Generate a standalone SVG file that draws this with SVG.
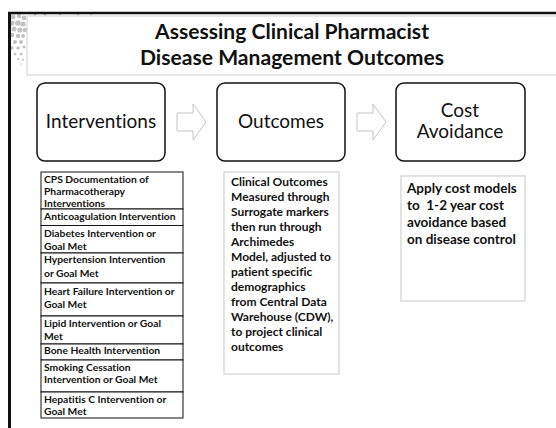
<svg xmlns="http://www.w3.org/2000/svg" width="556" height="428" viewBox="0 0 556 428">
  <style>
    text { font-variant-ligatures: none; }
    .title { font-family: Lato, "Liberation Sans", sans-serif; font-weight: bold; font-size: 20px; fill: #111; text-anchor: middle; }
    .stage { fill: #fff; stroke: #111; stroke-width: 1.5; }
    .stage-label { font-family: Lato, "Liberation Sans", sans-serif; font-size: 19px; fill: #111; text-anchor: middle; }
    .flow { fill: #fff; stroke: #c4c4c4; stroke-width: 1; }
    .note { fill: #fff; stroke: #d0d0d0; stroke-width: 1.2; }
    .cell { fill: #fff; stroke: #111; stroke-width: 1; }
    .cell-text { font-family: Lato, "Liberation Sans", sans-serif; font-weight: bold; font-size: 10.3px; fill: #111; }
    .note-text { font-family: Lato, "Liberation Sans", sans-serif; font-weight: bold; font-size: 12px; fill: #111; }
    .cost-text { font-family: Lato, "Liberation Sans", sans-serif; font-weight: bold; font-size: 13.5px; fill: #111; }
    .dot { fill: #c2c2c2; }
  </style>

  <rect width="556" height="428" fill="#fff"/>

  <!-- slide frame -->
  <g id="frame">
    <g id="halftone">
      <circle class="dot" cx="13" cy="17" r="2.4"/>
      <circle class="dot" cx="19" cy="16" r="2.2"/>
      <circle class="dot" cx="24" cy="18" r="2.4"/>
      <circle class="dot" cx="12" cy="23" r="2.6"/>
      <circle class="dot" cx="18" cy="23" r="2.8"/>
      <circle class="dot" cx="23" cy="24" r="2.6"/>
      <circle class="dot" cx="14" cy="29" r="2.5"/>
      <circle class="dot" cx="20" cy="30" r="2.6"/>
      <circle class="dot" cx="25" cy="30" r="2.2"/>
      <circle class="dot" cx="12" cy="35" r="2.3"/>
      <circle class="dot" cx="18" cy="36" r="2.3"/>
      <circle class="dot" cx="23" cy="36" r="2.0"/>
      <circle class="dot" cx="15" cy="42" r="2.0"/>
      <circle class="dot" cx="21" cy="42" r="2.0"/>
      <circle class="dot" cx="12" cy="48" r="1.7"/>
      <circle class="dot" cx="18" cy="48" r="1.8"/>
      <circle class="dot" cx="24" cy="47" r="1.5"/>
      <circle class="dot" cx="15" cy="54" r="1.4"/>
      <circle class="dot" cx="21" cy="54" r="1.5"/>
      <circle class="dot" cx="18" cy="59" r="1.1"/>
      <circle class="dot" cx="23" cy="60" r="1.0"/>
      <circle class="dot" cx="21" cy="64" r="0.8"/>
      <circle class="dot" cx="35" cy="14.5" r="1.2"/>
      <circle class="dot" cx="45" cy="14.5" r="1.2"/>
      <circle class="dot" cx="60" cy="14.5" r="1.0"/>
      <circle class="dot" cx="78" cy="14.5" r="1.0"/>
      <circle class="dot" cx="91" cy="14.5" r="0.8"/>
    </g>
    <rect x="27" y="16" width="540" height="59" fill="none" stroke="#cfcfcf" stroke-width="1"/>
    <line x1="8" y1="13" x2="556" y2="13" stroke="#111" stroke-width="2.5"/>
    <line x1="9.5" y1="12" x2="9.5" y2="428" stroke="#111" stroke-width="3"/>
  </g>

  <g id="title">
    <text class="title" x="292" y="39" textLength="274" lengthAdjust="spacingAndGlyphs">Assessing Clinical Pharmacist</text>
    <text class="title" x="292" y="65" textLength="304" lengthAdjust="spacingAndGlyphs">Disease Management Outcomes</text>
  </g>

  <!-- stage boxes -->
  <g id="interventions">
    <rect class="stage" x="37" y="83" width="128" height="78" rx="8"/>
    <text class="stage-label" x="101" y="128">Interventions</text>
  </g>
  <g id="outcomes">
    <rect class="stage" x="217" y="83" width="128" height="78" rx="8"/>
    <text class="stage-label" x="281" y="128">Outcomes</text>
  </g>
  <g id="cost-avoidance">
    <rect class="stage" x="396" y="83" width="129" height="78" rx="8"/>
    <text class="stage-label" x="460" y="117">Cost</text>
    <text class="stage-label" x="460" y="138">Avoidance</text>
  </g>

  <!-- block arrows between stages -->
  <g id="connectors">
    <polygon class="flow" points="177,113 193,113 193,104 206,122 193,140 193,131 177,131"/>
    <polygon class="flow" points="357,113 373,113 373,104 386,122 373,140 373,131 357,131"/>
  </g>

  <!-- intervention list -->
  <g id="intervention-list">
    <rect class="cell" x="41" y="172" width="142" height="37"/>
    <rect class="cell" x="41" y="209" width="142" height="16.5"/>
    <rect class="cell" x="41" y="225.5" width="142" height="27.5"/>
    <rect class="cell" x="41" y="253" width="142" height="30"/>
    <rect class="cell" x="41" y="283" width="142" height="33"/>
    <rect class="cell" x="41" y="316" width="142" height="28"/>
    <rect class="cell" x="41" y="344" width="142" height="16"/>
    <rect class="cell" x="41" y="360" width="142" height="32"/>
    <rect class="cell" x="41" y="392" width="142" height="26"/>
    <text class="cell-text" x="44" y="183">CPS Documentation of</text>
    <text class="cell-text" x="44" y="195">Pharmacotherapy</text>
    <text class="cell-text" x="44" y="206.5">Interventions</text>
    <text class="cell-text" x="44" y="220">Anticoagulation Intervention</text>
    <text class="cell-text" x="44" y="237">Diabetes Intervention or</text>
    <text class="cell-text" x="44" y="250">Goal Met</text>
    <text class="cell-text" x="44" y="263">Hypertension Intervention</text>
    <text class="cell-text" x="44" y="277">or Goal Met</text>
    <text class="cell-text" x="44" y="295">Heart Failure Intervention or</text>
    <text class="cell-text" x="44" y="308">Goal Met</text>
    <text class="cell-text" x="44" y="327">Lipid Intervention or Goal</text>
    <text class="cell-text" x="44" y="340">Met</text>
    <text class="cell-text" x="44" y="354">Bone Health Intervention</text>
    <text class="cell-text" x="44" y="371">Smoking Cessation</text>
    <text class="cell-text" x="44" y="383">Intervention or Goal Met</text>
    <text class="cell-text" x="44" y="403">Hepatitis C Intervention or</text>
    <text class="cell-text" x="44" y="415">Goal Met</text>
  </g>

  <!-- outcome measurement note -->
  <g id="outcomes-note">
    <rect class="note" x="224" y="172" width="115" height="202"/>
    <text class="note-text" x="231" y="186">Clinical Outcomes</text>
    <text class="note-text" x="231" y="201">Measured through</text>
    <text class="note-text" x="231" y="216">Surrogate markers</text>
    <text class="note-text" x="231" y="231">then run through</text>
    <text class="note-text" x="231" y="246">Archimedes</text>
    <text class="note-text" x="231" y="261">Model, adjusted to</text>
    <text class="note-text" x="231" y="276">patient specific</text>
    <text class="note-text" x="231" y="291">demographics</text>
    <text class="note-text" x="231" y="306">from Central Data</text>
    <text class="note-text" x="231" y="321">Warehouse (CDW),</text>
    <text class="note-text" x="231" y="336">to project clinical</text>
    <text class="note-text" x="231" y="351">outcomes</text>
  </g>

  <!-- cost model note -->
  <g id="cost-note">
    <rect class="note" x="401" y="176" width="124" height="125"/>
    <text class="cost-text" x="407" y="192.5">Apply cost models</text>
    <text class="cost-text" x="407" y="209.5" xml:space="preserve">to  1-2 year cost</text>
    <text class="cost-text" x="407" y="226.5">avoidance based</text>
    <text class="cost-text" x="407" y="243.5">on disease control</text>
  </g>
</svg>
